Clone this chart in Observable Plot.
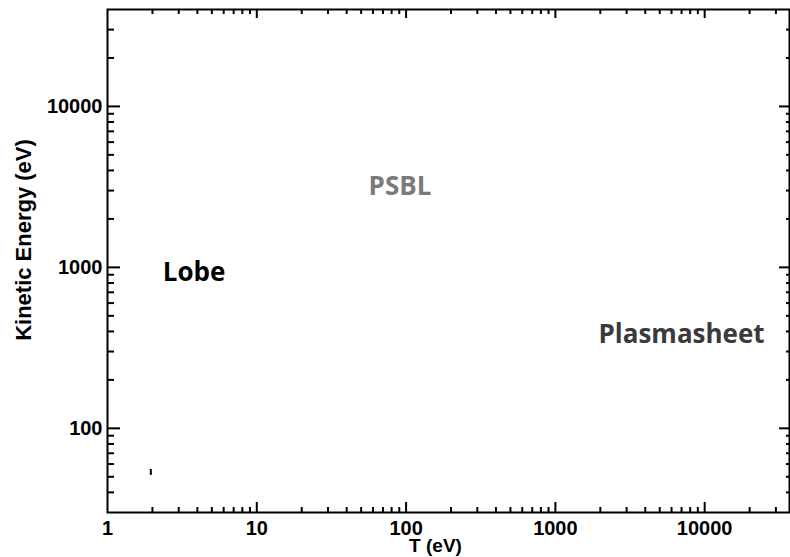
<!DOCTYPE html>
<html><head><meta charset="utf-8">
<script src="https://cdn.jsdelivr.net/npm/d3@7"></script>
<script src="https://cdn.jsdelivr.net/npm/@observablehq/plot@0.6"></script>
<style>body{margin:0;background:#fff} svg{display:block}</style>
</head><body><div id="chart"></div>
<script>
// Tick values
const xMajor = [1, 10, 100, 1000, 10000];
const yMajor = [100, 1000, 10000];
const minorSteps = [2, 3, 4, 5, 6, 7, 8, 9];
const xDecades = [1, 10, 100, 1000, 10000];
const yDecades = [10, 100, 1000, 10000];
// Region labels
const regionNames = ["Lobe", "PSBL", "Plasmasheet"];
const regionT = [3.8, 91, 7000];
const regionKE = [930, 3180, 383];
const regionColors = ["#000000", "#7a7a7a", "#3a3a3a"];
// Small mark near bottom-left
const markT = [1.95];
const markKElo = [51];
const markKEhi = [55.5];

const W = 790, H = 557, mL = 107, mR = 1, mT = 9, mB = 45;
const innerW = W - mL - mR, innerH = H - mT - mB;
const xDomain = [1, 37000], yDomain = [30, 40000];
const within = (v, [a, b]) => v > a * 1.0001 && v < b * 0.9999;
const xMinor = xDecades.flatMap(d => minorSteps.map(s => d * s)).filter(v => within(v, xDomain));
const yMinor = yDecades.flatMap(d => minorSteps.map(s => d * s)).filter(v => within(v, yDomain));
const xMaj = xMajor.filter(v => within(v, xDomain));
const yMaj = yMajor.filter(v => within(v, yDomain));

const tick = {stroke: "#000", strokeWidth: 2};
const labelFont = "'Liberation Sans', Arial, Helvetica, sans-serif";
const tickText = {fontSize: 20, fontWeight: "bold", fill: "#000", fontFamily: labelFont};

const chart = Plot.plot({
  width: W, height: H,
  marginLeft: mL, marginRight: mR, marginTop: mT, marginBottom: mB,
  x: {type: "log", domain: xDomain, axis: null},
  y: {type: "log", domain: yDomain, axis: null},
  style: {fontFamily: labelFont, background: "#fff", color: "#000"},
  marks: [
    // bottom ticks
    Plot.ruleX(xMaj, {...tick, insetTop: innerH - 10}),
    Plot.ruleX(xMinor, {...tick, insetTop: innerH - 5}),
    // top ticks
    Plot.ruleX(xMaj, {...tick, insetBottom: innerH - 9}),
    Plot.ruleX(xMinor, {...tick, insetBottom: innerH - 5}),
    // left ticks
    Plot.ruleY(yMaj, {...tick, insetRight: innerW - 13}),
    Plot.ruleY(yMinor, {...tick, insetRight: innerW - 7}),
    // right ticks
    Plot.ruleY(yMaj, {...tick, insetLeft: innerW - 10}),
    Plot.ruleY(yMinor, {...tick, insetLeft: innerW - 3}),
    Plot.frame({stroke: "#000", strokeWidth: 2}),
    // tick labels
    Plot.text(xMajor, {x: d => d, text: d => String(d), frameAnchor: "bottom", lineAnchor: "top", dy: 8, ...tickText}),
    Plot.text(yMajor, {y: d => d, text: d => String(d), frameAnchor: "left", textAnchor: "end", lineAnchor: "middle", dx: -5, ...tickText}),
    // axis titles
    Plot.text(["Kinetic Energy (eV)"], {text: d => d, frameAnchor: "left", textAnchor: "middle", lineAnchor: "middle", rotate: -90, dx: -84, dy: -21, fontSize: 22, fontWeight: "bold", fill: "#000"}),
    Plot.text(["T (eV)"], {text: d => d, frameAnchor: "bottom", textAnchor: "middle", lineAnchor: "middle", dx: -13, dy: 33, fontSize: 19, fontWeight: "bold", fill: "#000"}),
    // region labels
    ...regionNames.map((n, i) => Plot.text([n], {
      x: () => regionT[i], y: () => regionKE[i], text: d => d,
      fontSize: 26, fontWeight: "bold", fontFamily: "'Open Sans', sans-serif", fill: regionColors[i]
    })),
    Plot.ruleX(markT, {x: d => d, y1: (d, i) => markKElo[i], y2: (d, i) => markKEhi[i], stroke: "#000", strokeWidth: 2})
  ]
});
document.getElementById("chart").appendChild(chart);
</script>
</body></html>
